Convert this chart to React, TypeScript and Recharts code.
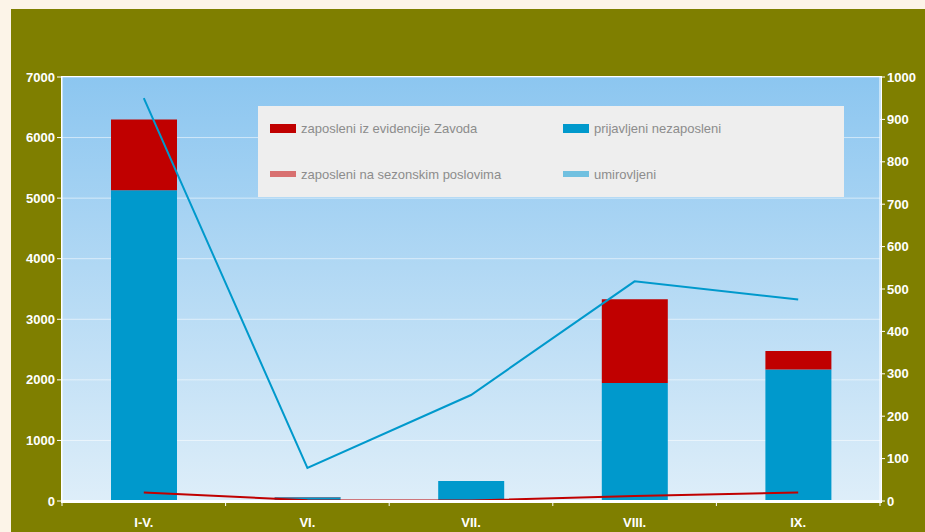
import React from "react";
import {
  Bar,
  CartesianGrid,
  ComposedChart,
  Line,
  XAxis,
  YAxis,
} from "recharts";

const months = ["I-V.", "VI.", "VII.", "VIII.", "IX."];
const blueBars = [5130, 60, 330, 1950, 2170];
const redBars = [1170, 5, 0, 1380, 305];
const redLine = [20, 2, 1, 12, 20];
const blueLine = [950, 78, 250, 518, 475];

const leftTicks = [0, 1000, 2000, 3000, 4000, 5000, 6000, 7000];
const rightTicks = [0, 100, 200, 300, 400, 500, 600, 700, 800, 900, 1000];

const seriesNames = [
  "zaposleni iz evidencije Zavoda",
  "prijavljeni nezaposleni",
  "zaposleni na sezonskim poslovima",
  "umirovljeni",
];

const data = months.map((m, i) => ({
  month: m,
  blue: blueBars[i],
  red: redBars[i],
  redLine: redLine[i],
  blueLine: blueLine[i],
}));

const W = 914;
const H = 523;
const TOP = 68;
const LEFT_W = 51;
const RIGHT_W = 45;
const BOTTOM_H = 31;
const PLOT_W = W - LEFT_W - RIGHT_W;
const AXIS_Y = H - BOTTOM_H;

const font = "'Liberation Sans', Arial, sans-serif";
const tickStyle = { fill: "#ffffff", fontSize: 13, fontWeight: 700, fontFamily: font };

const CategoryTick = (props: any) => {
  const { x, payload, index } = props;
  const half = PLOT_W / months.length / 2;
  return (
    <g>
      <line x1={x - half} x2={x - half} y1={AXIS_Y} y2={AXIS_Y + 5} stroke="#fff" />
      {index === months.length - 1 && (
        <line x1={x + half} x2={x + half} y1={AXIS_Y} y2={AXIS_Y + 5} stroke="#fff" />
      )}
      <text x={x} y={AXIS_Y + 26} textAnchor="middle" {...tickStyle}>
        {payload.value}
      </text>
    </g>
  );
};

const legendItems = [
  { name: seriesNames[0], color: "#c00000", h: 9 },
  { name: seriesNames[1], color: "#0099cc", h: 9 },
  { name: seriesNames[2], color: "#d87070", h: 6 },
  { name: seriesNames[3], color: "#70c0e0", h: 6 },
];

export default function App() {
  return (
    <div style={{ position: "relative", width: 925, height: 532, overflow: "hidden" }}>
      <style>{"body{margin:0;background:#fcf4e8}"}</style>
      <div
        style={{
          position: "absolute",
          left: 11,
          top: 9,
          width: W,
          height: H,
          background: "#7f7f00",
        }}
      >
        <div
          style={{
            position: "absolute",
            left: LEFT_W - 1,
            top: TOP - 1,
            width: PLOT_W + 1,
            height: AXIS_Y - TOP + 1,
            border: "1px solid #ffffff",
            background: "linear-gradient(#8cc6f0, #deeef9)",
          }}
        />
        <div style={{ position: "absolute", left: 0, top: 0 }}>
          <ComposedChart
            width={W}
            height={H}
            data={data}
            margin={{ top: TOP, right: 0, left: 0, bottom: 0 }}
            barSize={66}
          >
            <CartesianGrid
              yAxisId="left"
              vertical={false}
              stroke="#ffffff"
              strokeOpacity={0.55}
            />
            <XAxis
              dataKey="month"
              height={BOTTOM_H}
              axisLine={{ stroke: "#ffffff", strokeWidth: 2 }}
              tickLine={false}
              tick={<CategoryTick />}
              interval={0}
            />
            <YAxis
              yAxisId="left"
              width={LEFT_W}
              domain={[0, 7000]}
              ticks={leftTicks}
              axisLine={{ stroke: "#ffffff" }}
              tickLine={{ stroke: "#ffffff" }}
              tickSize={5}
              tick={tickStyle}
            />
            <YAxis
              yAxisId="right"
              orientation="right"
              width={RIGHT_W}
              domain={[0, 1000]}
              ticks={rightTicks}
              axisLine={{ stroke: "#ffffff" }}
              tickLine={{ stroke: "#ffffff" }}
              tickSize={5}
              tick={tickStyle}
            />
            <Bar yAxisId="left" dataKey="blue" stackId="a" fill="#0099cc" isAnimationActive={false} />
            <Bar yAxisId="left" dataKey="red" stackId="a" fill="#c00000" isAnimationActive={false} />
            <Line
              yAxisId="right"
              dataKey="redLine"
              stroke="#c00000"
              strokeWidth={2}
              dot={false}
              isAnimationActive={false}
            />
            <Line
              yAxisId="right"
              dataKey="blueLine"
              stroke="#0099cc"
              strokeWidth={2}
              dot={false}
              isAnimationActive={false}
            />
          </ComposedChart>
        </div>
        <div
          style={{
            position: "absolute",
            left: 247,
            top: 97,
            width: 586,
            height: 91,
            background: "#eeeeee",
            display: "grid",
            gridTemplateColumns: "293px 293px",
            gridTemplateRows: "45px 46px",
            fontFamily: font,
            fontSize: 13,
            color: "#8c8c8c",
          }}
        >
          {legendItems.map((it) => (
            <div
              key={it.name}
              style={{ display: "flex", alignItems: "center", paddingLeft: 12 }}
            >
              <span
                style={{
                  display: "inline-block",
                  width: 26,
                  height: it.h,
                  background: it.color,
                  marginRight: 5,
                }}
              />
              <span>{it.name}</span>
            </div>
          ))}
        </div>
      </div>
    </div>
  );
}
